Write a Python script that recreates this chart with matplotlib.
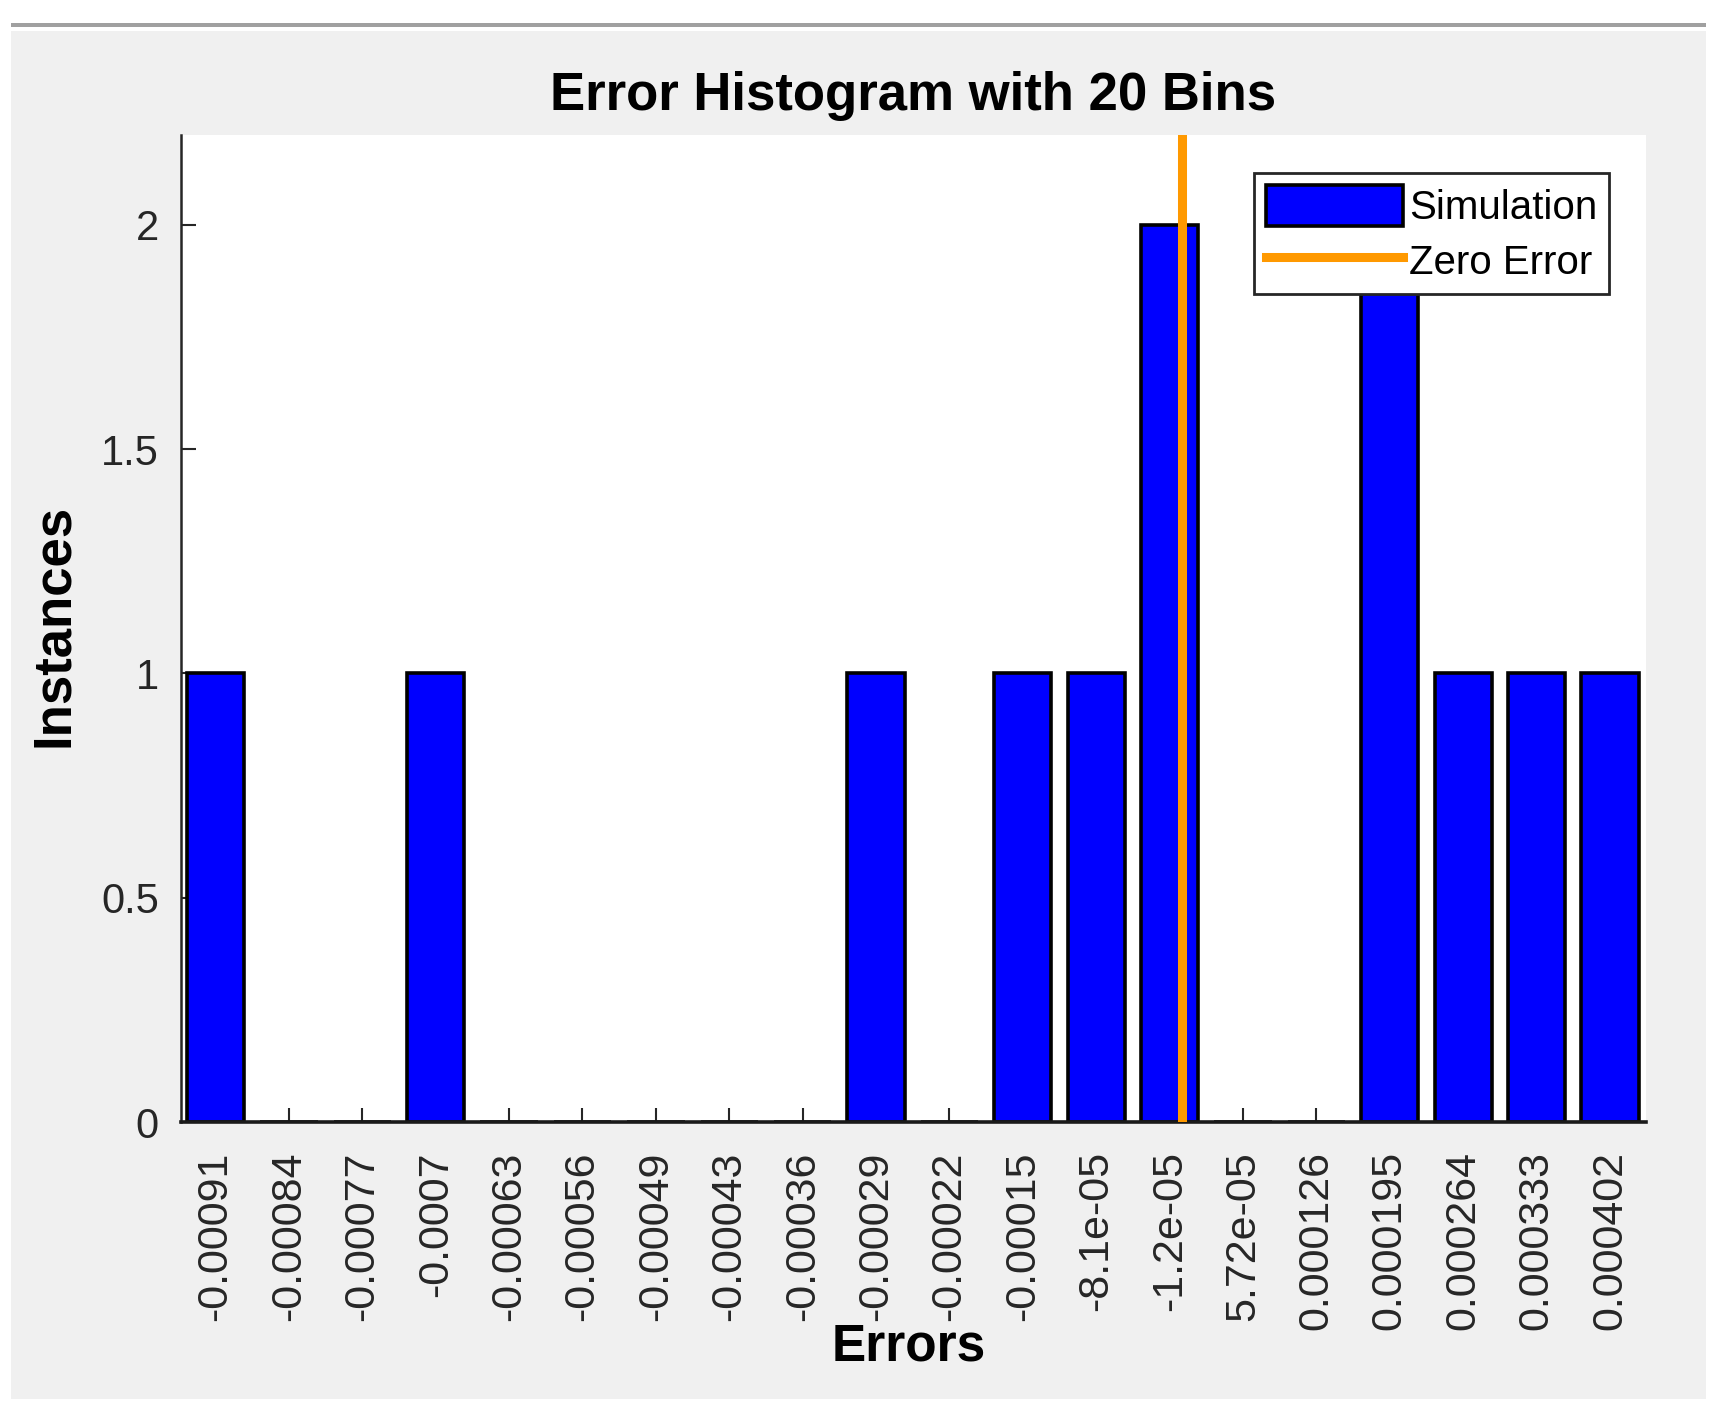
import matplotlib
matplotlib.use('Agg')
import matplotlib.pyplot as plt
from matplotlib.patches import Rectangle
import numpy as np

bin_labels = ['-0.00091', '-0.00084', '-0.00077', '-0.0007', '-0.00063', '-0.00056',
              '-0.00049', '-0.00043', '-0.00036', '-0.00029', '-0.00022', '-0.00015',
              '-8.1e-05', '-1.2e-05', '5.72e-05', '0.000126', '0.000195', '0.000264',
              '0.000333', '0.000402']
instances = [1, 0, 0, 1, 0, 0, 0, 0, 0, 1, 0, 1, 1, 2, 0, 0, 2, 1, 1, 1]
y_ticks = [0, 0.5, 1, 1.5, 2]
y_tick_labels = ['0', '0.5', '1', '1.5', '2']
zero_error = 0.0

plt.rcParams['font.family'] = ['Liberation Sans', 'DejaVu Sans']

W, H = 1720, 1415
fig = plt.figure(figsize=(W / 100, H / 100), dpi=100)
fig.patch.set_facecolor('white')

# grey panel and top border
fig.add_artist(Rectangle((11 / W, 1 - 1399 / H), (1706 - 11) / W, (1399 - 31) / H,
                         transform=fig.transFigure, facecolor='#F0F0F0',
                         edgecolor='none', zorder=0))
fig.add_artist(Rectangle((11 / W, 1 - 27 / H), (1706 - 11) / W, 4 / H,
                         transform=fig.transFigure, facecolor='#A0A0A0',
                         edgecolor='none', zorder=0))

ax = fig.add_axes([181 / W, 1 - 1122 / H, 1465 / W, 987 / H])
ax.set_facecolor('white')
ax.set_axisbelow(True)

pos = np.arange(len(bin_labels))
bars = ax.bar(pos, instances, width=0.78, color='#0000FF', edgecolor='black',
              linewidth=2.6, label='Simulation', zorder=2)

centers = np.array([float(s) for s in bin_labels])
zero_pos = np.interp(zero_error, centers, pos)
zline = ax.axvline(zero_pos, color='#FF9900', linewidth=6.5, label='Zero Error', zorder=3)

ax.set_xlim(-0.47, 19.49)
ax.set_ylim(0, 2.2)

ax.set_xticks(pos)
ax.set_xticklabels(bin_labels, rotation=90, va='top', ha='center')
ax.set_yticks(y_ticks)
ax.set_yticklabels(y_tick_labels)

ax.tick_params(axis='x', direction='in', length=10, width=1.5, pad=21,
               labelsize=31, labelcolor='#262626', color='#262626')
ax.tick_params(axis='y', direction='in', length=11, width=1.5, pad=16,
               labelsize=30, labelcolor='#262626', color='#262626')

for s in ['top', 'right']:
    ax.spines[s].set_visible(False)
ax.spines['left'].set_linewidth(1.8)
ax.spines['left'].set_color('#262626')
ax.spines['bottom'].set_linewidth(2.6)
ax.spines['bottom'].set_color('#1a1a1a')
ax.spines['bottom'].set_zorder(2.5)

ax.set_title('Error Histogram with 20 Bins', fontsize=38, fontweight='bold', pad=18)
ax.set_xlabel('Errors', fontsize=37, fontweight='bold', va='center')
ax.xaxis.set_label_coords(0.497, -0.228)
ax.set_ylabel('Instances', fontsize=38, fontweight='bold', va='center')
ax.yaxis.set_label_coords(-0.087, 0.503)

leg = ax.legend([bars, zline], ['Simulation', 'Zero Error'],
                loc='upper right', bbox_to_anchor=(0.975, 0.9615), borderaxespad=0,
                fontsize=29, frameon=True, fancybox=False, handlelength=3.4,
                handleheight=1.2, handletextpad=0.15, labelspacing=0.3,
                borderpad=0.3)
leg.get_frame().set_edgecolor('#262626')
leg.get_frame().set_linewidth(2)
leg.get_frame().set_alpha(1)

fig.savefig('out.png', dpi=100)
